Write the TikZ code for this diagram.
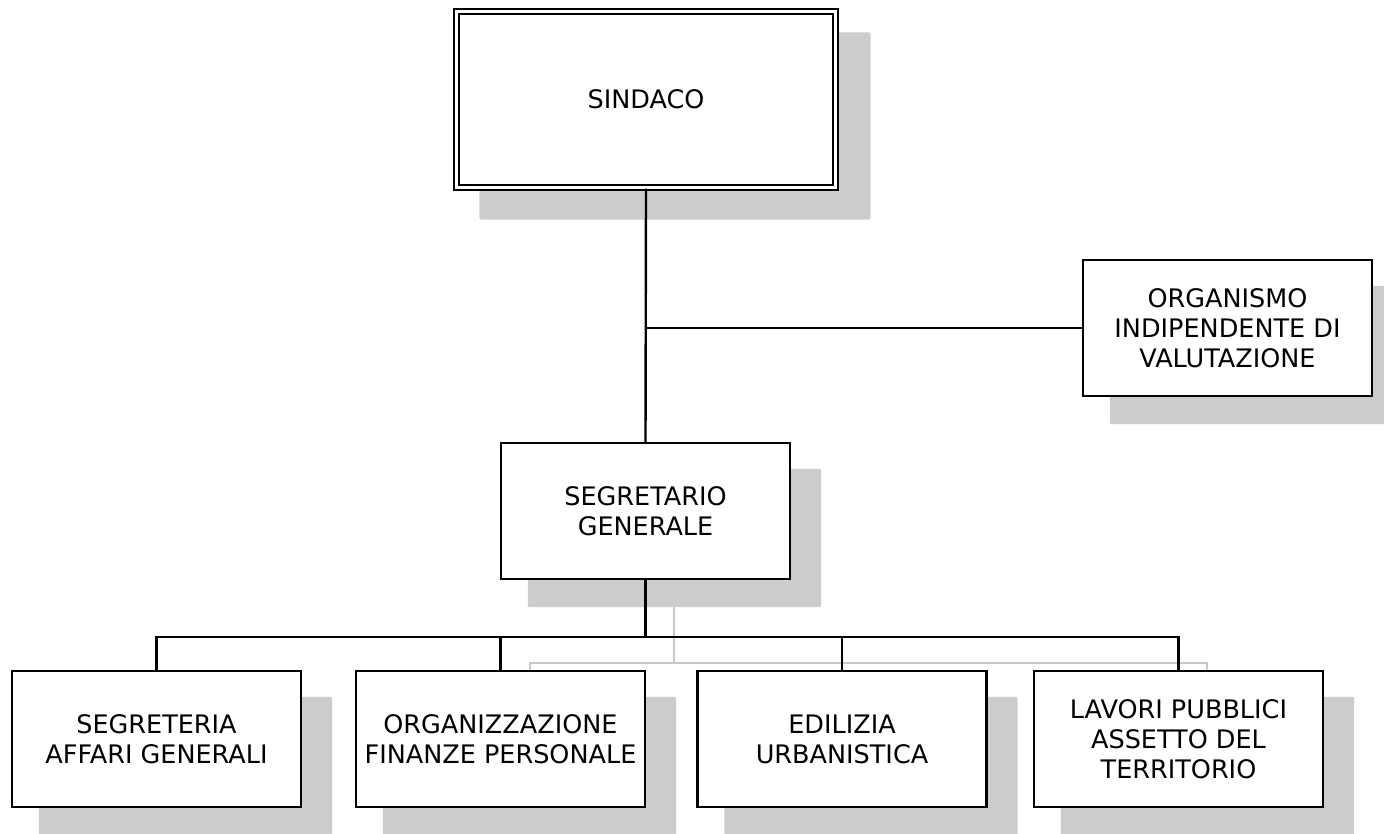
\documentclass[tikz,border=0pt]{standalone}
\usepackage{fontspec}
\setmainfont{DejaVu Sans}
\usetikzlibrary{backgrounds}
\definecolor{shadowc}{HTML}{CCCCCC}
\definecolor{shline}{HTML}{C8C8C8}
\newcommand\boxshadow[1]{\fill[shadowc, rounded corners=2pt] ([xshift=28pt,yshift=-27pt]#1.north west) rectangle ([xshift=30pt,yshift=-27pt]#1.south east);}
\tikzset{
  orgbox/.style={draw, line width=2.4pt, fill=white, minimum width=289pt, minimum height=136pt,
    align=center, inner sep=0pt, font=\fontsize{25.5}{30}\selectfont},
  conn/.style={line width=2.4pt},
  shconn/.style={draw=shline, line width=1.8pt},
}
\begin{document}
\begin{tikzpicture}[x=1pt,y=-1pt]
\useasboundingbox (0,0) rectangle (1384,833);
% nodes
\node[orgbox, double, double distance=3.5pt, line width=2.2pt, minimum width=379pt, minimum height=176pt] (sind) at (646,99.5) {SINDACO};
\node[orgbox] (oiv) at (1227.5,328) {ORGANISMO\\INDIPENDENTE DI\\VALUTAZIONE};
\node[orgbox] (seg) at (645.5,511) {SEGRETARIO\\GENERALE};
\node[orgbox] (b1) at (156.5,739) {SEGRETERIA\\AFFARI GENERALI};
\node[orgbox] (b2) at (500.5,739) {ORGANIZZAZIONE\\FINANZE PERSONALE};
\node[orgbox] (b3) at (842,739) {EDILIZIA\\URBANISTICA};
\node[orgbox] (b4) at (1178.5,739) {LAVORI PUBBLICI\\ASSETTO DEL\\TERRITORIO};
% coordinates
\coordinate (bus) at (645.5,637);
\coordinate (gtop) at (674,607);
\coordinate (gbus) at (674,663);
\coordinate (gl) at (530,671);
\coordinate (gr) at (1207,671);
% background: shadows
\begin{pgfonlayer}{background}
\fill[white] (0,0) rectangle (1384,833);
\fill[shadowc, rounded corners=2pt] ([xshift=24pt,yshift=-22pt]sind.north west) rectangle ([xshift=34pt,yshift=-31pt]sind.south east);
\boxshadow{oiv}
\boxshadow{seg}
\boxshadow{b1}
\boxshadow{b2}
\boxshadow{b3}
\boxshadow{b4}
\draw[shconn] (gtop) -- (gbus);
\draw[shconn] (gl) |- (gbus) -| (gr);
\end{pgfonlayer}
% connectors
\draw[conn] (sind.south) -- (seg.north);
\draw[conn] (sind.south |- oiv.west) -- (oiv.west);
\draw[conn] (seg.south) -- (bus);
\draw[conn] (b1.north) |- (bus) -| (b4.north);
\draw[conn] (b2.north) -- (b2.north |- bus);
\draw[conn] (b3.north) -- (b3.north |- bus);
\end{tikzpicture}
\end{document}
